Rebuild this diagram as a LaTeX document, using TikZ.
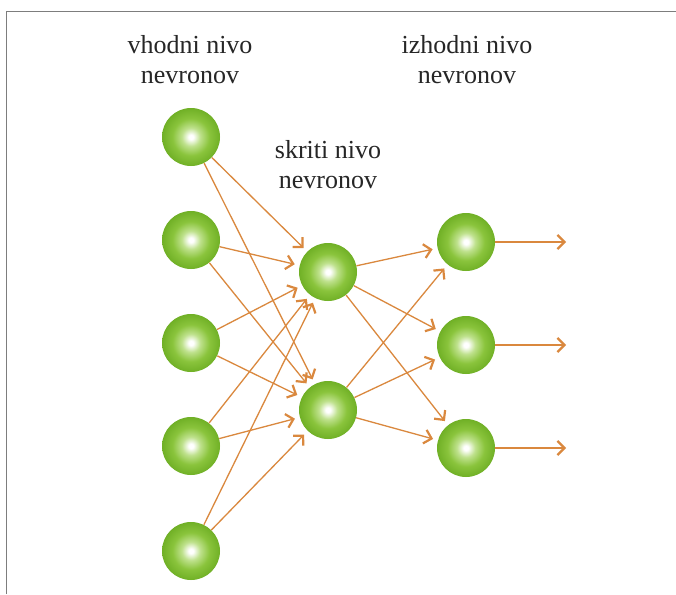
\documentclass[tikz,border=0pt]{standalone}
\usepackage{fontspec}
\setmainfont{Liberation Serif}
\usetikzlibrary{arrows.meta}
\definecolor{ndark}{RGB}{112,176,38}
\definecolor{ngreen}{RGB}{138,196,60}
\definecolor{nlight}{RGB}{190,225,140}
\definecolor{edgec}{RGB}{218,136,62}
\definecolor{framec}{RGB}{125,125,125}
\pgfdeclareradialshading{neuronshade}{\pgfpoint{0bp}{0bp}}{%
  color(0bp)=(white); color(2bp)=(white); color(8bp)=(nlight);
  color(16bp)=(ngreen); color(25bp)=(ndark); color(50bp)=(ndark)}
\tikzset{
  neuron/.style={circle, minimum size=58pt, inner sep=0pt, shading=neuronshade},
  lbl/.style={align=center, font=\fontsize{26}{30}\selectfont, text=black!85},
  conn/.style={draw=edgec, line width=1.3pt, -{Straight Barb[length=7pt,width=14pt,line width=2.2pt]}, shorten >=5pt},
}
\begin{document}
\begin{tikzpicture}[x=1pt,y=-1pt]
\useasboundingbox (0,0) rectangle (676,594);
\fill[white] (0,0) rectangle (676,594);
\draw[framec, line width=1.6pt] (6.5,594) -- (6.5,11.5) -- (676,11.5);
% labels
\node[lbl] (lin) at (190,60) {vhodni nivo\\nevronov};
\node[lbl] (lhid) at (328,165) {skriti nivo\\nevronov};
\node[lbl] (lout) at (467,60) {izhodni nivo\\nevronov};
% neurons
\node[neuron] (i1) at (191,137) {};
\node[neuron] (i2) at (191,240) {};
\node[neuron] (i3) at (191,343) {};
\node[neuron] (i4) at (191,446) {};
\node[neuron] (i5) at (191,551) {};
\node[neuron] (h1) at (328,272) {};
\node[neuron] (h2) at (328,410) {};
\node[neuron] (o1) at (466,242) {};
\node[neuron] (o2) at (466,345) {};
\node[neuron] (o3) at (466,448) {};
\coordinate (e1) at (566,242);
\coordinate (e2) at (566,345);
\coordinate (e3) at (566,448);
% connections
\foreach \i in {i1,i2,i3,i4,i5}{
  \foreach \h in {h1,h2}{
    \draw[conn] (\i) -- (\h);
  }
}
\foreach \h in {h1,h2}{
  \foreach \o in {o1,o2,o3}{
    \draw[conn] (\h) -- (\o);
  }
}
\draw[conn, shorten >=0pt] (o1) -- (e1);
\draw[conn, shorten >=0pt] (o2) -- (e2);
\draw[conn, shorten >=0pt] (o3) -- (e3);
\end{tikzpicture}
\end{document}
